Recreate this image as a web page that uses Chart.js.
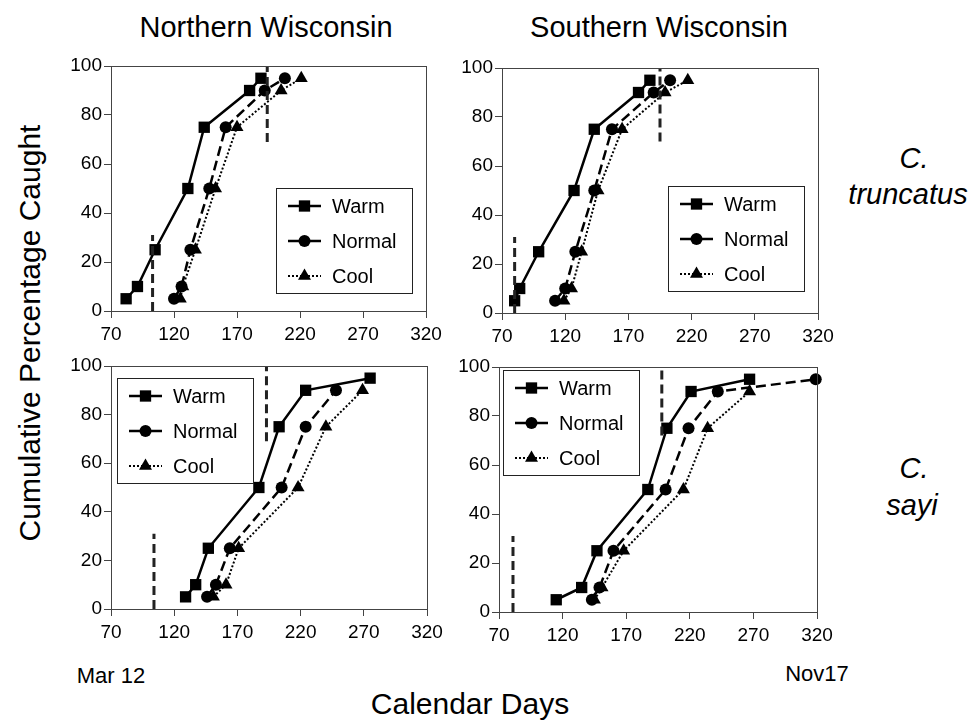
<!DOCTYPE html>
<html><head><meta charset="utf-8">
<script src="https://cdn.jsdelivr.net/npm/chart.js@4.4.1/dist/chart.umd.min.js"></script>
<style>
body{margin:0;background:#fff;width:971px;height:720px;position:relative;overflow:hidden;font-family:'Liberation Sans',Arial,sans-serif;}
.t{position:absolute;white-space:nowrap;color:#000;transform:translate(-50%,-50%);line-height:1;}
canvas{position:absolute;}
</style></head><body>
<div class="t" style="left:266px;top:27px;font-size:29px">Northern Wisconsin</div>
<div class="t" style="left:659px;top:27px;font-size:29px">Southern Wisconsin</div>
<div class="t" style="left:30px;top:333px;font-size:30px;transform:translate(-50%,-50%) rotate(-90deg)">Cumulative Percentage Caught</div>
<div class="t" style="left:914px;top:158px;font-size:29px;font-style:italic">C.</div>
<div class="t" style="left:908px;top:194px;font-size:29px;font-style:italic">truncatus</div>
<div class="t" style="left:914px;top:468px;font-size:29px;font-style:italic">C.</div>
<div class="t" style="left:912px;top:505px;font-size:29px;font-style:italic">sayi</div>
<div class="t" style="left:111px;top:676px;font-size:22px">Mar 12</div>
<div class="t" style="left:817px;top:674px;font-size:22px">Nov17</div>
<div class="t" style="left:470px;top:704px;font-size:30px">Calendar Days</div>
<canvas id="c1"></canvas><canvas id="c2"></canvas><canvas id="c3"></canvas><canvas id="c4"></canvas>
<script>
// ---- data (percent caught vs calendar day) ----
const pctLevels = [5, 10, 25, 50, 75, 90, 95];
const xTicks = [70, 120, 170, 220, 270, 320];
const seriesNames = ['Warm', 'Normal', 'Cool'];

// Northern Wisconsin, C. truncatus
const warmNorthTrunc   = [82, 91, 105, 131, 144, 180, 189];
const normalNorthTrunc = [120, 126, 133, 148, 161, 192, 208];
const coolNorthTrunc   = [125, 127, 137, 153, 170, 205, 221];
// Southern Wisconsin, C. truncatus
const warmSouthTrunc   = [80, 84, 99, 127, 143, 178, 187];
const normalSouthTrunc = [112, 120, 128, 143, 157, 190, 203];
const coolSouthTrunc   = [119, 125, 133, 146, 165, 199, 217];
// Northern Wisconsin, C. sayi
const warmNorthSayi    = [129, 137, 147, 187, 203, 224, 275];
const normalNorthSayi  = [146, 153, 164, 205, 224, 248];
const coolNorthSayi    = [151, 161, 171, 218, 240, 269];
// Southern Wisconsin, C. sayi
const warmSouthSayi    = [115, 135, 147, 187, 202, 221, 267];
const normalSouthSayi  = [143, 149, 160, 201, 219, 242, 319];
const coolSouthSayi    = [145, 151, 168, 215, 234, 267];

// vertical reference marks: day, and [low, high] percent extent
const marksNorthTrunc = [103, 194];
const marksSouthTrunc = [80, 195];
const marksNorthSayi  = [104, 193];
const marksSouthSayi  = [81, 198];
const markLowSpan = [0, 31];
const markHighSpanNorthTrunc = [69, 100];
const markHighSpanSouthTrunc = [70, 100];
const markHighSpanNorthSayi  = [69, 100];
const markHighSpanSouthSayi  = [72, 100];

// ---- plugins ----
const frame = {
  id: 'frame',
  afterDraw(chart) {
    const a = chart.chartArea, ctx = chart.ctx;
    ctx.save();
    ctx.strokeStyle = '#444'; ctx.lineWidth = 1;
    ctx.strokeRect(Math.round(a.left) + 0.5, Math.round(a.top) + 0.5, Math.round(a.right - a.left), Math.round(a.bottom - a.top));
    ctx.restore();
  }
};
function drawBoxLegend(ctx, a, o, items) {
  const x = Math.round(a.left + o.dx), y = Math.round(a.top + o.dy);
  ctx.save();
  ctx.fillStyle = '#fff';
  ctx.fillRect(x, y, o.w, o.h);
  ctx.strokeStyle = '#222'; ctx.lineWidth = 1;
  ctx.strokeRect(x + 0.5, y + 0.5, o.w, o.h);
  items.forEach((d, i) => {
    const ry = y + o.row0 + i * o.rowGap;
    ctx.beginPath();
    ctx.setLineDash(d.legendDash || []);
    ctx.lineWidth = d.borderWidth; ctx.strokeStyle = d.borderColor;
    ctx.moveTo(x + o.sx, ry); ctx.lineTo(x + o.sx + o.sw, ry); ctx.stroke();
    ctx.setLineDash([]);
    ctx.fillStyle = d.pointBackgroundColor;
    Chart.helpers.drawPoint(ctx, {pointStyle: d.pointStyle, rotation: 0, radius: d.pointRadius, borderWidth: 0}, x + o.sx + o.sw / 2, ry);
    ctx.fillStyle = '#000';
    ctx.font = "20px 'Liberation Sans', Arial, sans-serif";
    ctx.textBaseline = 'middle';
    ctx.fillText(d.label, x + o.tx, ry + 1);
  });
  ctx.restore();
}

function pts(days) { return days.map((d, i) => ({x: d, y: pctLevels[i]})); }

function makePanel(id, area, warm, normal, cool, marks, highSpan, legendPos) {
  const [L, T, R, B] = area;
  const padTop = 15, padRight = 25, yW = 60, xH = 37;
  const cv = document.getElementById(id);
  cv.width = (R - L) + yW + padRight;
  cv.height = (B - T) + padTop + xH;
  cv.style.left = (L - yW) + 'px';
  cv.style.top = (T - padTop) + 'px';
  const markDs = (day, span) => ({
    data: [{x: day, y: span[0]}, {x: day, y: span[1]}],
    borderColor: '#222', borderWidth: 3, borderDash: [9, 5], pointRadius: 0, clip: false
  });
  const datasets = [
    markDs(marks[0], markLowSpan),
    markDs(marks[1], highSpan),
    {label: seriesNames[2], data: pts(cool), borderColor: '#000', borderWidth: 2, borderDash: [2, 2], legendDash: [2, 2],
     pointStyle: 'triangle', pointRadius: 7.5, pointBackgroundColor: '#000', pointBorderWidth: 0, clip: false},
    {label: seriesNames[1], data: pts(normal), borderColor: '#000', borderWidth: 2.5, borderDash: [10, 5], legendDash: [],
     pointStyle: 'circle', pointRadius: 6, pointBackgroundColor: '#000', pointBorderWidth: 0, clip: false},
    {label: seriesNames[0], data: pts(warm), borderColor: '#000', borderWidth: 2.5, legendDash: [],
     pointStyle: 'rect', pointRadius: 8, pointBackgroundColor: '#000', pointBorderWidth: 0, clip: false}
  ];
  const legendItems = [datasets[4], datasets[3], datasets[2]];
  const legendOpts = Object.assign({w: 136, h: 105, row0: 18, rowGap: 35, sx: 12, sw: 33, tx: 56}, legendPos);
  return new Chart(cv, {
    type: 'line',
    data: {datasets},
    options: {
      responsive: false, animation: false,
      layout: {padding: {left: 0, top: padTop, right: padRight, bottom: 0}},
      elements: {line: {tension: 0}},
      plugins: {legend: {display: false}, tooltip: {enabled: false}},
      scales: {
        x: {type: 'linear', min: xTicks[0], max: xTicks[xTicks.length - 1],
          afterBuildTicks(s) { s.ticks = xTicks.map(v => ({value: v})); },
          ticks: {color: '#000', font: {size: 19}, padding: 5, maxRotation: 0, autoSkip: false},
          grid: {display: true, drawOnChartArea: false, drawTicks: true, tickLength: 7, color: '#444'},
          border: {display: true, color: '#444', width: 1},
          afterFit(s) { s.height = xH; }},
        y: {type: 'linear', min: 0, max: 100,
          ticks: {stepSize: 20, color: '#000', font: {size: 19}, padding: 2},
          grid: {display: true, drawOnChartArea: false, drawTicks: true, tickLength: 7, color: '#444'},
          border: {display: true, color: '#444', width: 1},
          afterFit(s) { s.width = yW; }}
      }
    },
    plugins: [frame, {
      id: 'boxLegend',
      afterDatasetsDraw(c) { drawBoxLegend(c.ctx, c.chartArea, legendOpts, legendItems); }
    }]
  });
}

Chart.defaults.font.family = "'Liberation Sans', Arial, sans-serif";

makePanel('c1', [111, 66, 426, 311], warmNorthTrunc, normalNorthTrunc, coolNorthTrunc, marksNorthTrunc, markHighSpanNorthTrunc, {dx: 165, dy: 122});
makePanel('c2', [502, 68, 818, 313], warmSouthTrunc, normalSouthTrunc, coolSouthTrunc, marksSouthTrunc, markHighSpanSouthTrunc, {dx: 166, dy: 118});
makePanel('c3', [111, 366, 427, 609], warmNorthSayi, normalNorthSayi, coolNorthSayi, marksNorthSayi, markHighSpanNorthSayi, {dx: 6, dy: 12});
makePanel('c4', [499, 367, 817, 612], warmSouthSayi, normalSouthSayi, coolSouthSayi, marksSouthSayi, markHighSpanSouthSayi, {dx: 4, dy: 3});
</script>
</body></html>
